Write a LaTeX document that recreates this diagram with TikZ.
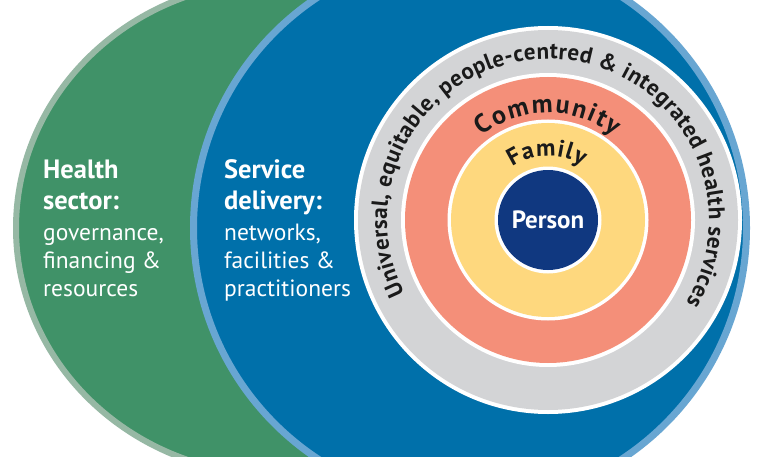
\documentclass[tikz,border=0pt]{standalone}
\usepackage{fontspec}
\setmainfont{PT Sans}
\usetikzlibrary{decorations.text}

\definecolor{sectorgreen}{RGB}{64,146,104}
\definecolor{sectorrim}{RGB}{150,184,164}
\definecolor{deliveryblue}{RGB}{0,112,170}
\definecolor{deliveryrim}{RGB}{104,166,210}
\definecolor{servicegray}{RGB}{211,212,214}
\definecolor{communitypink}{RGB}{244,143,121}
\definecolor{familyyellow}{RGB}{254,216,126}
\definecolor{personnavy}{RGB}{16,56,128}
\definecolor{ringink}{RGB}{26,26,26}

\begin{document}
\begin{tikzpicture}[x=1pt,y=1pt,
	headtext/.style={anchor=base west,inner sep=0pt,text=white,font=\fontsize{26.5}{30}\selectfont\bfseries},
	bodytext/.style={anchor=base west,inner sep=0pt,text=white,font=\fontsize{23.5}{28}\selectfont}]
	%frame
	\clip (0,0) rectangle (760,456);
	\fill[white] (0,0) rectangle (760,456);
	
	%sector and delivery
	\filldraw[draw=sectorrim,line width=6pt,fill=sectorgreen] (278,228) ellipse [x radius=262, y radius=247];
	\filldraw[draw=deliveryrim,line width=7pt,fill=deliveryblue] (470,228) circle (276.5);
	
	%rings
	\fill[white] (548,236) circle (194);
	\fill[servicegray] (548,236) circle (190);
	\fill[white] (548,236) circle (147);
	\fill[communitypink] (548,236) circle (143);
	\fill[white] (548,236) circle (100.5);
	\fill[familyyellow] (548,236) circle (97);
	\fill[white] (548,236) circle (53.5);
	\node[circle,fill=personnavy,minimum size=100pt,inner sep=0pt,text=white,font=\fontsize{25}{30}\selectfont\bfseries] (person) at (548,236) {Person};
	
	%ring labels
	\path[decorate,decoration={text along path,text align=fit to path,text color=ringink,
		text={|\fontsize{23}{27}\selectfont\bfseries|Universal, equitable, people-centred {\&} integrated health services}}]
		(548,236) ++(207:161) arc (207:-31:161);
	\path[decorate,decoration={text along path,text align=fit to path,text color=ringink,
		text={|\fontsize{26}{30}\selectfont\bfseries|Community}}]
		(548,236) ++(128:107) arc (128:52:107);
	\path[decorate,decoration={text along path,text align=fit to path,text color=ringink,
		text={|\fontsize{24}{28}\selectfont\bfseries|Family}}]
		(548,236) ++(124:64) arc (124:58:64);
	
	%left labels
	\node[headtext] (hsHealth) at (43,278) {Health};
	\node[headtext] (hsSector) at (43,247) {sector:};
	\node[bodytext] (hsGov)    at (43,216) {governance,};
	\node[bodytext] (hsFin)    at (43,188) {financing \&};
	\node[bodytext] (hsRes)    at (43,160) {resources};
	%
	\node[headtext] (sdService) at (224,278) {Service};
	\node[headtext] (sdDelivery) at (224,247) {delivery:};
	\node[bodytext] (sdNet)     at (224,216) {networks,};
	\node[bodytext] (sdFac)     at (224,188) {facilities \&};
	\node[bodytext] (sdPrac)    at (224,160) {practitioners};
	
	%\draw[help lines] (0,0) grid (760,456);
\end{tikzpicture}
\end{document}
